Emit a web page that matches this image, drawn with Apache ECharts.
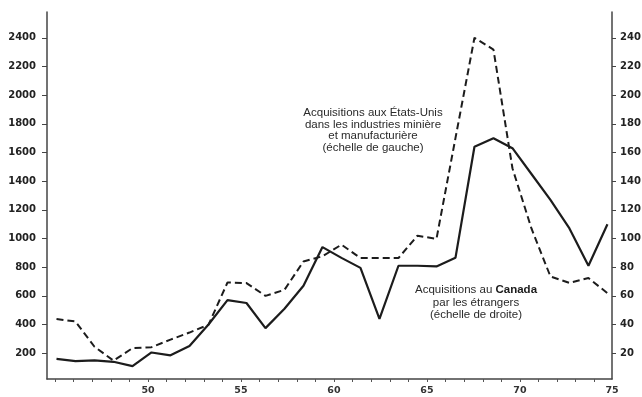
<!DOCTYPE html>
<html>
<head>
<meta charset="utf-8">
<script src="https://cdn.jsdelivr.net/npm/echarts@6/dist/echarts.min.js"></script>
<style>
  html, body { margin: 0; padding: 0; background: #fff; }
  #chart { width: 642px; height: 397px; }
</style>
</head>
<body>
<div id="chart"></div>
<script>
// years 1945..1974 (two digits, as on the axis)
const years = [45, 46, 47, 48, 49, 50, 51, 52, 53, 54, 55, 56, 57, 58, 59,
               60, 61, 62, 63, 64, 65, 66, 67, 68, 69, 70, 71, 72, 73, 74]

// Acquisitions aux Etats-Unis (échelle de gauche)
const usAcquisitions = [438, 421, 245, 148, 235, 242, 295, 344, 398, 693, 689, 600, 642, 840, 876,
                        957, 864, 864, 864, 1020, 997, 1700, 2400, 2318, 1490, 1070, 735, 690, 724, 619]

// Acquisitions au Canada par les étrangers (échelle de droite)
const canadaAcquisitions = [16, 14.5, 15, 14, 11, 20.5, 18.5, 25, 40, 57, 55, 37.5, 51, 67, 94,
                            86.5, 79.5, 44, 81, 81, 80.5, 86.5, 164, 170, 163, 145, 127, 107, 81, 110]

const xTickLabels = [50, 55, 60, 65, 70, 75]
const xMinorTicks = [45, 46, 47, 48, 49, 50, 51, 52, 53, 54, 55, 56, 57, 58, 59, 60,
                     61, 62, 63, 64, 65, 66, 67, 68, 69, 70, 71, 72, 73, 74, 75]
const leftTicks = [200, 400, 600, 800, 1000, 1200, 1400, 1600, 1800, 2000, 2200, 2400]
const rightTicks = [20, 40, 60, 80, 100, 120, 140, 160, 180, 200, 220, 240]

// the printed year labels are spaced a bit tighter than the plotted points;
// map a printed label year onto the data's year scale
const labelToAxis = n => 44.5 + (101 + (n - 50) * 18.6) / 19

const ink = '#1c1c1c'
const chart = echarts.init(document.getElementById('chart'))

chart.setOption({
  animation: false,
  backgroundColor: '#fff',
  grid: { left: 47, right: 30, top: 12, bottom: 18, containLabel: false, outerBoundsMode: 'none' },
  xAxis: {
    type: 'value',
    min: 44.5,
    max: 74.24,
    splitLine: { show: false },
    axisLine: { lineStyle: { color: '#444', width: 1.5 } },
    axisTick: {
      show: true, length: 3, inside: false,
      customValues: xMinorTicks.map(labelToAxis).filter(v => v >= 44.5 && v <= 74.24),
      lineStyle: { color: '#555' }
    },
    axisLabel: {
      customValues: xTickLabels.map(n => Math.min(labelToAxis(n), 74.24)),
      formatter: v => String(Math.round(v + 0.3) >= 74 ? 75 : xTickLabels.find(n => Math.abs(labelToAxis(n) - v) < 0.2)),
      color: '#333', fontSize: 9.5, fontWeight: 'bold', fontFamily: 'DejaVu Sans', margin: 7
    }
  },
  yAxis: [
    {
      type: 'value',
      min: 20,
      max: 2580,
      splitLine: { show: false },
      axisLine: { show: true, lineStyle: { color: '#444', width: 1.5 } },
      axisTick: { show: true, length: 5, customValues: leftTicks, lineStyle: { color: '#444' } },
      axisLabel: {
        customValues: leftTicks, formatter: v => String(v), color: '#222', fontSize: 10, fontWeight: 'bold',
        fontFamily: 'DejaVu Sans', margin: 11
      }
    },
    {
      type: 'value',
      min: 2,
      max: 258,
      position: 'right',
      splitLine: { show: false },
      axisLine: { show: true, lineStyle: { color: '#444', width: 1.5 } },
      axisTick: { show: true, length: 4, customValues: rightTicks, lineStyle: { color: '#444' } },
      axisLabel: {
        customValues: rightTicks, formatter: v => String(v), color: '#222', fontSize: 10, fontWeight: 'bold',
        fontFamily: 'DejaVu Sans', margin: 8
      }
    }
  ],
  series: [
    {
      name: 'Acquisitions aux États-Unis',
      type: 'line',
      yAxisIndex: 0,
      data: years.map((y, i) => [y, usAcquisitions[i]]),
      symbol: 'none',
      lineStyle: { color: ink, width: 2, type: [7, 4] }
    },
    {
      name: 'Acquisitions au Canada',
      type: 'line',
      yAxisIndex: 1,
      data: years.map((y, i) => [y, canadaAcquisitions[i]]),
      symbol: 'none',
      lineStyle: { color: ink, width: 2.2 }
    }
  ],
  graphic: [
    {
      type: 'text', x: 373, y: 107, silent: true,
      style: {
        text: 'Acquisitions aux États-Unis\ndans les industries minière\net manufacturière\n(échelle de gauche)',
        align: 'center', verticalAlign: 'top', lineHeight: 11.7,
        font: '11.5px "Liberation Sans"', fill: '#2a2a2a'
      }
    },
    {
      type: 'text', x: 476, y: 284, silent: true,
      style: {
        text: 'Acquisitions au {b|Canada}\npar les étrangers\n(échelle de droite)',
        align: 'center', verticalAlign: 'top', lineHeight: 12.4,
        font: '11.5px "Liberation Sans"', fill: '#2a2a2a',
        rich: { b: { font: 'bold 11.5px "Liberation Sans"', fill: '#1a1a1a' } }
      }
    }
  ]
})

window.addEventListener('resize', () => chart.resize())
</script>
</body>
</html>
